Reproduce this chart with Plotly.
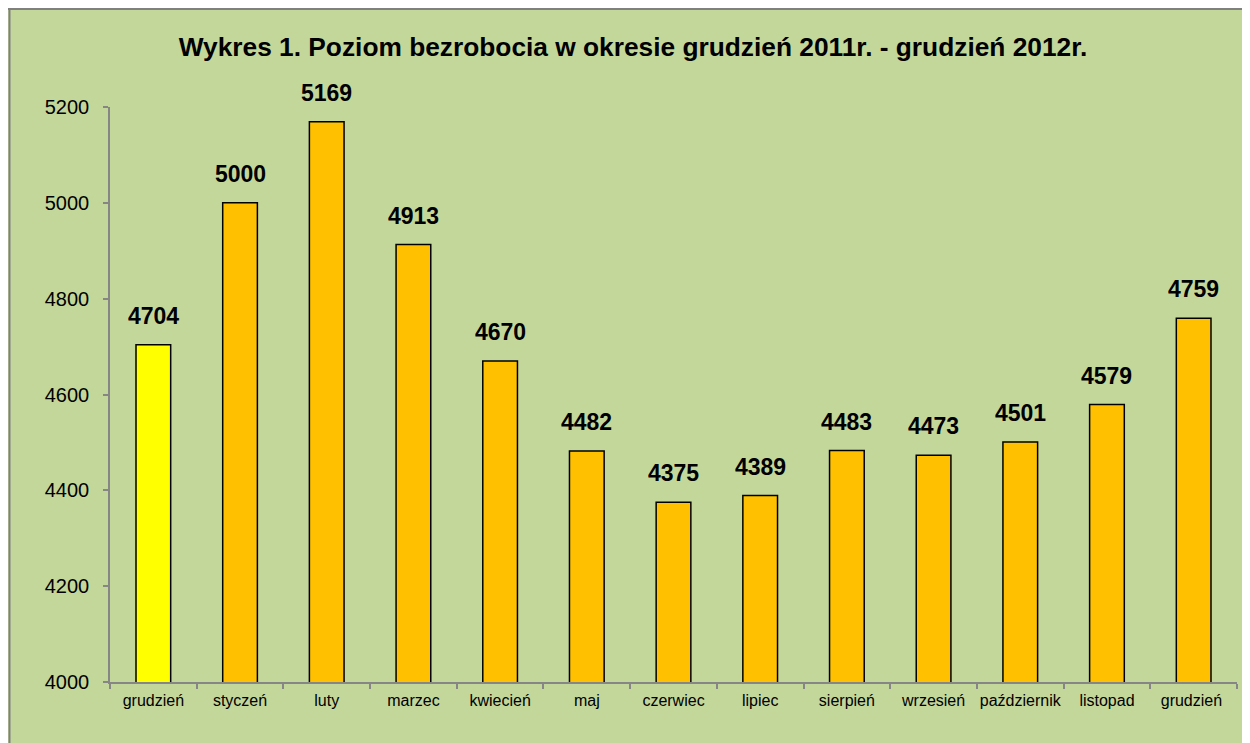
import plotly.graph_objects as go

months = ["grudzień", "styczeń", "luty", "marzec", "kwiecień", "maj", "czerwiec",
          "lipiec", "sierpień", "wrzesień", "październik", "listopad", "grudzień "]
values = [4704, 5000, 5169, 4913, 4670, 4482, 4375, 4389, 4483, 4473, 4501, 4579, 4759]
colors = ["#FFFF00"] + ["#FFC000"] * 12

W, H = 1250, 743
L, R, T, B = 102, 21, 99, 69
pw, ph = W - L - R, H - T - B

def px(x):
    return (x - L) / pw

def py(y):
    return (H - B - y) / ph

FONT = "Arial, Liberation Sans, sans-serif"

fig = go.Figure(go.Bar(
    x=months, y=values, base=0,
    marker=dict(color=colors, line=dict(color="#000000", width=1.5)),
    hoverinfo="x+y",
))

for m, v in zip(months, values):
    fig.add_annotation(x=m, y=v, text=f"<b>{v}</b>", showarrow=False,
                       xanchor="center", yanchor="bottom", yshift=14,
                       font=dict(family=FONT, size=23, color="#000000"))

shapes = [
    dict(type="line", xref="paper", yref="paper", x0=px(0), x1=px(W), y0=py(1), y1=py(1),
         line=dict(color="#808080", width=2), layer="above"),
    dict(type="line", xref="paper", yref="paper", x0=px(1.5), x1=px(1.5), y0=py(0), y1=py(H),
         line=dict(color="#808080", width=2), layer="above"),
]

fig.update_layout(
    width=W, height=H,
    margin=dict(l=L, r=R, t=T, b=B),
    paper_bgcolor="#C4D79B", plot_bgcolor="#C4D79B",
    bargap=0.6, showlegend=False,
    shapes=shapes,
    font=dict(family=FONT, color="#000000"),
    title=dict(text="<b>Wykres 1. Poziom bezrobocia w okresie grudzień 2011r. - grudzień 2012r.</b>",
               x=0.5, xref="container", xanchor="center", y=1 - 39 / H, yanchor="middle",
               font=dict(family=FONT, size=26.3, color="#000000")),
    yaxis=dict(range=[4000, 5200], dtick=200, tick0=4000, showgrid=False, zeroline=False,
               showline=True, linecolor="#868686", linewidth=1.5,
               ticks="outside", ticklen=5, tickcolor="#868686", tickwidth=1.5,
               tickfont=dict(family=FONT, size=20, color="#000000"), ticklabelstandoff=10),
    xaxis=dict(showgrid=False, showline=True, linecolor="#868686", linewidth=1.5,
               ticks="outside", ticklen=5, tickcolor="#868686", tickwidth=1.5,
               tickson="boundaries", tickangle=0,
               tickfont=dict(family=FONT, size=16, color="#000000"),
               ticklabelstandoff=3),
)

fig.write_html("out.html")
